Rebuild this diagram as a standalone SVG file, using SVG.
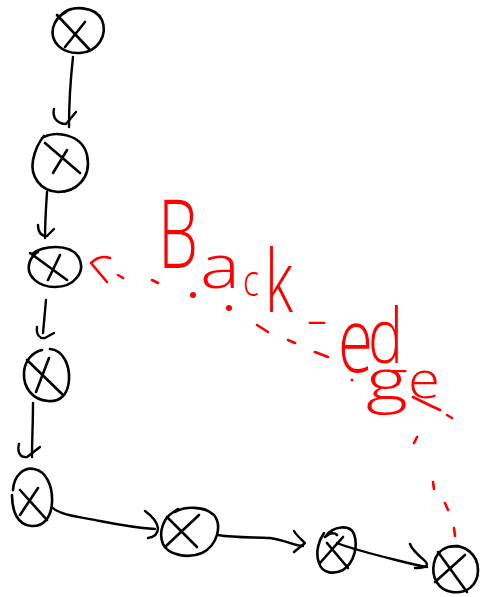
<svg xmlns="http://www.w3.org/2000/svg" width="482" height="597" viewBox="0 0 482 597">
<style>
.n{fill:none;stroke:#000;stroke-width:2.6;stroke-linecap:round;stroke-linejoin:round}
.e{fill:none;stroke:#000;stroke-width:2.4;stroke-linecap:round;stroke-linejoin:round}
.r{fill:none;stroke:#f00;stroke-width:2.6;stroke-linecap:round;stroke-linejoin:round}
.d{fill:#f00}
.t{fill:#f00;font-family:"Open Sans","Liberation Sans",sans-serif;font-weight:300}
</style>
<rect width="482" height="597" fill="#fff"/>
<g id="node1"><path class="n" d="M62,14 C72,5 95,6 102,20 C108,35 98,52 80,53 C62,54 50,42 53,28 C55,20 60,15 66,12"/><path class="n" d="M57,15 L90,50 M85,22 L65,47"/></g>
<g id="node2"><path class="n" d="M42,138 C55,130 82,134 87,155 C92,178 76,192 58,192 C40,191 30,176 33,160 C35,150 38,143 44,136"/><path class="n" d="M45,143 L80,173 M67,150 L53,173"/></g>
<g id="node3"><path class="n" d="M32,254 C42,246 70,242 79,258 C86,272 74,287 55,287 C38,287 27,276 29,265 C30,259 33,255 38,252"/><path class="n" d="M30,253 L67,280 M60,255 L48,280"/></g>
<g id="node4"><path class="n" d="M50,349 C63,350 70,365 69,380 C68,395 60,402 48,401 C33,400 23,388 24,372 C25,360 33,352 42,350"/><path class="n" d="M27,360 L63,395 M49,358 L36,392"/></g>
<g id="node5"><path class="n" d="M13,490 C14,475 24,467 34,469 C46,471 53,486 52,503 C51,517 44,527 31,526 C18,525 12,512 12,495"/><path class="n" d="M20,490 L47,520 M38,488 L20,515"/></g>
<g id="node6"><path class="n" d="M175,512 C185,506 205,506 214,515 C222,525 218,545 202,553 C188,559 168,555 163,544 C158,532 164,518 172,513 L178,509"/><path class="n" d="M167,517 L197,547 M199,515 L165,547"/></g>
<g id="node7"><path class="n" d="M326,536 C333,526 350,524 354,534 C358,545 355,562 343,570 C333,575 322,573 319,563 C315,552 319,540 324,533 M325,537 C330,533 334,532 337,535"/><path class="n" d="M327,543 L348,568 M343,537 L320,563"/></g>
<g id="node8"><path class="n" d="M448,547 C465,543 478,555 478,570 C478,585 467,594 452,592 C438,590 431,577 434,563 C436,553 442,549 448,547 M448,547 L458,546"/><path class="n" d="M438,552 L467,592 M465,555 L435,582"/></g>
<g id="connectors">
<path class="e" d="M73,57 C71,75 69,100 69,127"/><path class="e" d="M54,109 C52,117 57,124 66,124 L76,112"/>
<path class="e" d="M47,192 C46,208 45,222 45,238"/><path class="e" d="M38,225 C38,233 42,236 47,236 L54,229"/>
<path class="e" d="M46,300 C45,312 44,322 43,333"/><path class="e" d="M37,327 C36,335 40,339 45,338 L54,333"/>
<path class="e" d="M33,403 C33,422 32,440 32,457"/><path class="e" d="M19,444 C17,452 20,458 27,457 L40,447"/>
<path class="e" d="M53,508 C60,515 80,517 100,521 C120,525 140,528 155,529"/><path class="e" d="M145,511 C152,516 157,522 158,528 C158,533 155,537 148,538"/>
<path class="e" d="M218,535 C235,538 255,537 270,538 C285,540 295,546 303,546"/><path class="e" d="M294,531 C297,536 301,539 305,543 L294,552"/>
<path class="e" d="M337,543 C355,550 380,556 400,561 C412,564 420,566 427,567"/><path class="e" d="M410,544 C412,550 418,555 425,561 C430,566 425,568 415,568"/>
</g>
<g id="back-edge">
<path class="r" d="M110,258 C104,256 97,257 91,263 L107,282"/>
<path class="r" d="M118,275 L123,278 M152,280 L158,283 M257,325 L268,332 M288,340 L295,343 M315,352 L328,357 M413,397 C425,403 433,407 440,410 M447,415 L452,418 M417,437 L414,443 M433,482 L434,489 M445,503 L448,510 M454,528 L455,536"/>
<circle class="d" cx="193" cy="295" r="3"/><circle class="d" cx="229" cy="308" r="3"/><circle class="d" cx="352" cy="380" r="1.5"/>
<text class="t"><tspan x="158" y="268" font-size="95" textLength="40" lengthAdjust="spacingAndGlyphs">B</tspan><tspan x="200" y="288" font-size="60" textLength="40" lengthAdjust="spacingAndGlyphs">a</tspan><tspan x="243" y="296" font-size="44" textLength="16" lengthAdjust="spacingAndGlyphs">c</tspan><tspan x="265" y="312" font-size="86" textLength="28" lengthAdjust="spacingAndGlyphs">k</tspan><tspan x="306" y="336" font-size="50" textLength="22" lengthAdjust="spacingAndGlyphs">-</tspan><tspan x="338" y="372" font-size="90" textLength="35" lengthAdjust="spacingAndGlyphs">e</tspan><tspan x="368" y="363" font-size="76" textLength="35" lengthAdjust="spacingAndGlyphs">d</tspan><tspan x="366" y="401" font-size="58" textLength="42" lengthAdjust="spacingAndGlyphs">g</tspan><tspan x="408" y="398" font-size="52" textLength="32" lengthAdjust="spacingAndGlyphs">e</tspan></text>
</g>
</svg>
